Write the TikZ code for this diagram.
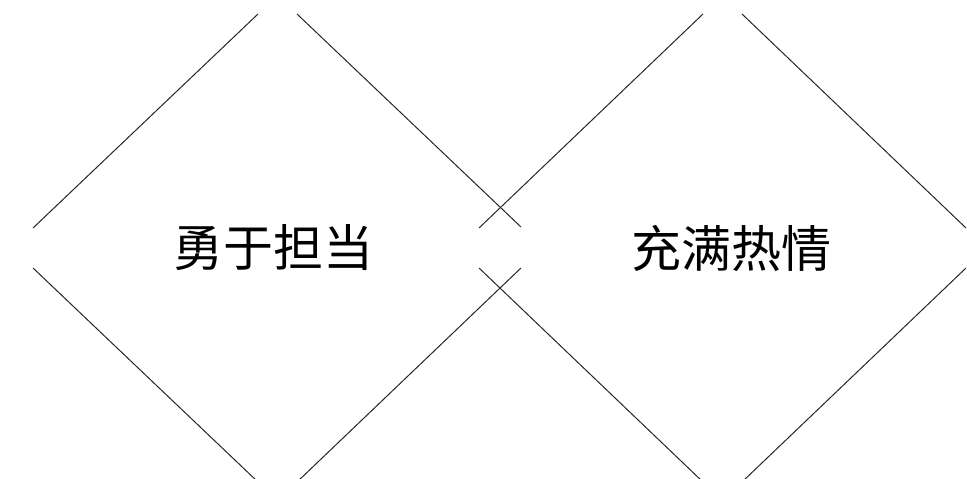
\documentclass[tikz,border=0pt]{standalone}
\usepackage{fontspec}
\newfontfamily\cjk{Noto Sans CJK SC}
\tikzset{
  edge/.style={draw=black!85, line width=1pt},
  label/.style={font=\cjk\fontsize{50}{54}\selectfont, inner sep=0pt}
}
\begin{document}
\begin{tikzpicture}[x=1pt,y=-1pt]
\useasboundingbox (0,0) rectangle (967,479);
\clip (0,0) rectangle (967,479);
% left diamond
\draw[edge] (33,228) -- (258,14);
\draw[edge] (297,14) -- (521,227);
\draw[edge] (33,268) -- (258,482);
\draw[edge] (297,482) -- (521,268);
% right diamond
\draw[edge] (479,228) -- (703,14);
\draw[edge] (742,14) -- (966,228);
\draw[edge] (479,268) -- (703,482);
\draw[edge] (742,482) -- (966,268);
\node[label] (a) at (273,248) {勇于担当};
\node[label] (b) at (731,248) {充满热情};
\end{tikzpicture}
\end{document}
